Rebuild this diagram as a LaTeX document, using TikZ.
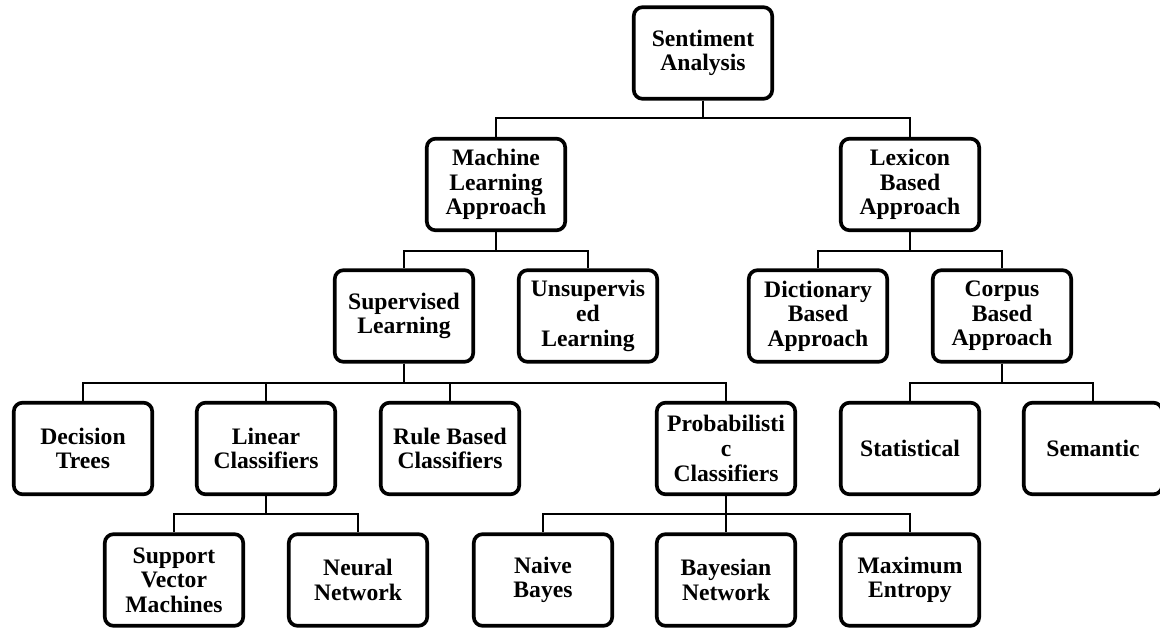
\documentclass[tikz,border=0pt]{standalone}
\usepackage{fontspec}
\setmainfont{Liberation Serif}

\begin{document}
\begin{tikzpicture}[
  x=0.025cm, y=-0.025cm,
  cbox/.style={draw, line width=2.6pt, rounded corners=0.22cm,
    minimum width=3.46cm, minimum height=2.29cm, inner sep=0pt,
    align=center, font=\bfseries\fontsize{16.8}{17.5}\selectfont},
  clink/.style={line width=1.4pt},
]
\useasboundingbox (0,0) rectangle (1160,628);

\node [cbox] (root) at (703,53) {Sentiment\\Analysis};

\node [cbox] (mla) at (496,184.5) {Machine\\Learning\\Approach};
\node [cbox] (lba) at (910,184.5) {Lexicon\\Based\\Approach};

\node [cbox] (sup) at (404,316) {Supervised\\Learning};
\node [cbox] (unsup) at (588,316) {Unsupervis\\ed\\Learning};
\node [cbox] (dict) at (818,316) {Dictionary\\Based\\Approach};
\node [cbox] (corp) at (1002,316) {Corpus\\Based\\Approach};

\node [cbox] (dt) at (83,448.5) {Decision\\Trees};
\node [cbox] (lin) at (266,448.5) {Linear\\Classifiers};
\node [cbox] (rule) at (450,448.5) {Rule Based\\Classifiers};
\node [cbox] (prob) at (726,448.5) {Probabilisti\\c\\Classifiers};
\node [cbox] (stat) at (910,448.5) {Statistical};
\node [cbox] (sem) at (1093,448.5) {Semantic};

\node [cbox] (svm) at (174,580) {Support\\Vector\\Machines};
\node [cbox] (nn) at (358,580) {Neural\\Network};
\node [cbox] (nb) at (543,580) {Naive\\Bayes};
\node [cbox] (bn) at (726,580) {Bayesian\\Network};
\node [cbox] (me) at (910,580) {Maximum\\Entropy};

% bus heights
\coordinate (bus1) at (0,118);
\coordinate (bus2) at (0,251);
\coordinate (bus3) at (0,383);
\coordinate (bus4) at (0,514);

\foreach \p/\b/\c in {root/bus1/mla, root/bus1/lba,
    mla/bus2/sup, mla/bus2/unsup, lba/bus2/dict, lba/bus2/corp,
    sup/bus3/dt, sup/bus3/lin, sup/bus3/rule, sup/bus3/prob,
    corp/bus3/stat, corp/bus3/sem,
    lin/bus4/svm, lin/bus4/nn,
    prob/bus4/nb, prob/bus4/bn, prob/bus4/me}
  \draw [clink] (\p.south) -- (\p.south |- \b) -| (\c.north);

\end{tikzpicture}
\end{document}
